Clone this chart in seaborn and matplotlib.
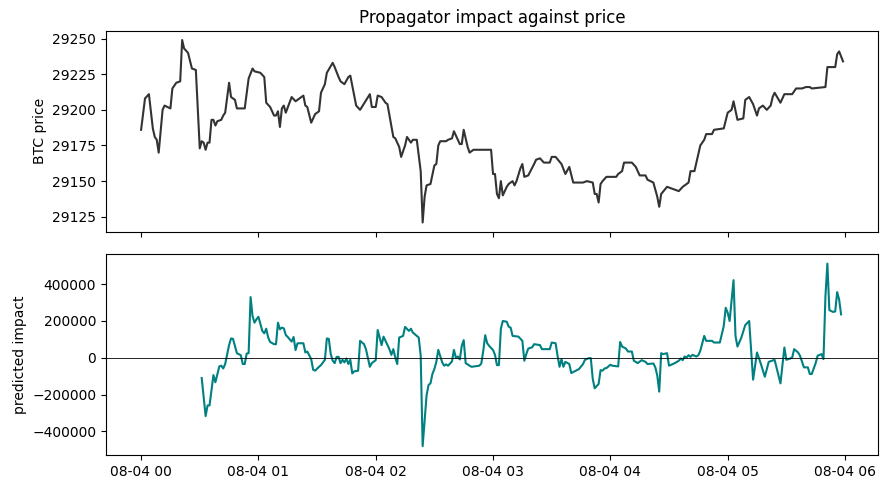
import pandas as pd
import matplotlib
matplotlib.use("Agg")
import matplotlib.pyplot as plt
import matplotlib.dates as mdates
import seaborn as sns

# minutes after 2023-08-04 00:00 and values
price_minutes = [0, 2, 4, 6, 7, 8, 9, 11, 12, 15, 16, 18, 20, 21, 22, 24, 26, 28, 30, 31,
                 32, 33, 34, 35, 36, 37, 38, 39, 41, 42, 43, 45, 46, 48, 49, 53, 55, 57, 58, 61,
                 63, 64, 66, 68, 69, 70, 71, 72, 73, 74, 77, 79, 81, 83, 84, 85, 87, 89, 91, 92,
                 94, 95, 98, 99, 101, 102, 104, 106, 107, 109, 110, 112, 117, 118, 120, 121, 123, 125, 126, 129,
                 130, 132, 133, 135, 136, 138, 139, 141, 143, 144, 145, 146, 148, 150, 151, 152, 153, 156, 157, 159,
                 160, 163, 164, 165, 167, 168, 170, 179, 180, 181, 182, 183, 184, 185, 187, 188, 190, 191, 192, 194,
                 195, 196, 198, 201, 202, 204, 206, 209, 210, 212, 215, 217, 219, 221, 226, 228, 231, 232, 233, 234,
                 235, 236, 238, 243, 244, 246, 247, 251, 253, 255, 258, 259, 262, 264, 265, 266, 269, 275, 277, 280,
                 281, 283, 284, 286, 288, 289, 292, 293, 298, 300, 301, 302, 303, 305, 308, 309, 311, 313, 315, 316,
                 318, 320, 322, 323, 324, 327, 329, 333, 335, 338, 340, 342, 343, 350, 351, 355, 356, 357, 359]
btc_price = [29186, 29208, 29211, 29187, 29181, 29179, 29170, 29200, 29203, 29201, 29215, 29219, 29220, 29249, 29243, 29240, 29229, 29228, 29173, 29178,
             29177, 29172, 29177, 29177, 29193, 29193, 29189, 29192, 29193, 29196, 29198, 29219, 29209, 29207, 29201, 29201, 29222, 29229, 29227, 29226,
             29223, 29205, 29202, 29196, 29196, 29199, 29188, 29201, 29203, 29198, 29209, 29206, 29208, 29210, 29203, 29202, 29191, 29197, 29199, 29212,
             29218, 29226, 29233, 29230, 29223, 29220, 29218, 29223, 29224, 29210, 29203, 29200, 29211, 29202, 29202, 29210, 29209, 29205, 29204, 29181,
             29180, 29174, 29167, 29175, 29181, 29177, 29179, 29179, 29157, 29121, 29139, 29147, 29148, 29161, 29162, 29175, 29178, 29178, 29179, 29180,
             29185, 29176, 29176, 29186, 29174, 29170, 29172, 29172, 29155, 29155, 29141, 29138, 29150, 29140, 29146, 29148, 29150, 29147, 29150, 29159,
             29162, 29153, 29154, 29162, 29165, 29166, 29163, 29163, 29167, 29167, 29162, 29155, 29160, 29149, 29149, 29150, 29149, 29141, 29141, 29135,
             29148, 29150, 29153, 29153, 29155, 29157, 29163, 29163, 29160, 29154, 29154, 29151, 29149, 29139, 29132, 29141, 29146, 29143, 29146, 29149,
             29157, 29157, 29163, 29175, 29179, 29183, 29183, 29186, 29187, 29198, 29199, 29200, 29206, 29193, 29194, 29207, 29209, 29204, 29196, 29201,
             29203, 29200, 29203, 29209, 29212, 29205, 29211, 29211, 29215, 29215, 29216, 29216, 29215, 29216, 29230, 29230, 29239, 29241, 29234]

impact_minutes = [31, 33, 34, 35, 37, 38, 40, 41, 42, 43, 45, 46, 47, 49, 51, 52, 53, 54, 55, 56,
                  57, 58, 59, 60, 62, 63, 64, 65, 66, 68, 69, 70, 71, 72, 73, 74, 75, 77, 78, 79,
                  80, 83, 84, 85, 87, 88, 89, 91, 92, 94, 95, 96, 97, 98, 99, 100, 101, 102, 103, 104,
                  105, 106, 107, 108, 109, 111, 112, 114, 115, 117, 118, 120, 121, 122, 123, 124, 125, 127, 128, 129,
                  130, 131, 132, 134, 135, 137, 138, 139, 140, 142, 143, 144, 146, 147, 148, 149, 150, 151, 152, 154,
                  155, 156, 157, 159, 160, 161, 162, 163, 164, 165, 166, 168, 169, 173, 174, 175, 176, 177, 178, 180,
                  181, 182, 183, 184, 185, 187, 188, 189, 190, 193, 195, 196, 197, 198, 200, 201, 204, 205, 209, 210,
                  212, 213, 214, 215, 216, 217, 219, 220, 223, 224, 226, 227, 229, 230, 231, 232, 234, 235, 236, 237,
                  238, 240, 241, 244, 245, 246, 248, 249, 251, 252, 254, 256, 258, 259, 262, 263, 264, 265, 266, 267,
                  269, 270, 273, 275, 276, 277, 278, 279, 280, 281, 282, 284, 285, 286, 288, 289, 292, 293, 296, 298,
                  299, 300, 301, 303, 304, 305, 307, 309, 311, 313, 315, 317, 319, 321, 324, 327, 329, 330, 332, 333,
                  334, 336, 337, 339, 341, 342, 343, 345, 346, 348, 349, 350, 351, 352, 354, 355, 356, 357, 358]
predicted_impact = [-110000, -317000, -259000, -259000, -94000, -133000, -47000, -43000, -58000, -34000,
                    69000, 105000, 103000, 25000, 14000, -34000, -34000, 23000, 25000, 330000,
                    227000, 191000, 209000, 223000, 146000, 133000, 158000, 110000, 86000, 74000,
                    74000, 191000, 155000, 164000, 160000, 124000, 113000, 88000, 113000, 42000,
                    79000, 79000, 29000, 34000, -7000, -65000, -70000, -49000, -40000, -11000,
                    105000, 103000, 20000, -16000, -29000, 5000, 5000, -29000, -11000, -25000,
                    -4000, -34000, -11000, -85000, -74000, -70000, 92000, 74000, 47000, -49000,
                    -29000, -13000, 151000, 110000, 69000, 115000, 92000, 47000, 16000, 47000,
                    2000, -34000, 110000, 119000, 168000, 146000, 158000, 137000, 128000, 110000,
                    11000, -480000, -205000, -148000, -139000, -88000, -61000, -22000, 43000, -25000,
                    -43000, -36000, -43000, -20000, 43000, 0, 7000, -9000, 65000, 96000,
                    -29000, -43000, -49000, -43000, -31000, 38000, 123000, 79000, 65000, 42000,
                    16000, -40000, -40000, 158000, 200000, 196000, 169000, 164000, 119000, 115000,
                    92000, -16000, 20000, 50000, 57000, 74000, 69000, 47000, 47000, 83000,
                    79000, 11000, -49000, -7000, -49000, -22000, -34000, -83000, -67000, -61000,
                    -34000, -11000, -2000, -2000, -115000, -166000, -142000, -67000, -70000, -58000,
                    -56000, -38000, -43000, -47000, 86000, 61000, 50000, 34000, 34000, -16000,
                    -29000, -13000, -22000, -34000, -31000, -52000, -97000, -184000, 25000, 20000,
                    25000, -43000, -29000, -16000, -4000, -13000, 7000, 2000, 14000, 5000,
                    16000, 7000, 14000, 38000, 119000, 92000, 92000, 83000, 83000, 173000,
                    272000, 245000, 200000, 422000, 119000, 61000, 110000, 178000, 200000, -119000,
                    29000, -34000, -103000, -22000, -11000, -139000, 56000, -11000, -4000, 2000,
                    47000, 29000, 11000, -52000, -52000, -88000, -88000, -29000, 11000, 20000,
                    -7000, 335000, 512000, 259000, 249000, 252000, 357000, 317000, 236000]

start = pd.Timestamp("2023-08-04 00:00")
price_df = pd.DataFrame({"time": start + pd.to_timedelta(price_minutes, unit="min"),
                         "price": btc_price})
impact_df = pd.DataFrame({"time": start + pd.to_timedelta(impact_minutes, unit="min"),
                          "impact": predicted_impact})

fig, (ax1, ax2) = plt.subplots(2, 1, sharex=True, figsize=(8.87, 4.9), dpi=100)

sns.lineplot(data=price_df, x="time", y="price", ax=ax1, color="#333333")
ax1.set_title("Propagator impact against price")
ax1.set_ylabel("BTC price")
ax1.set_xlabel("")
ax1.ticklabel_format(axis="y", style="plain", useOffset=False)

sns.lineplot(data=impact_df, x="time", y="impact", ax=ax2, color="teal")
ax2.axhline(0, color="black", lw=0.6)
ax2.set_ylabel("predicted impact")
ax2.set_xlabel("")
ax2.ticklabel_format(axis="y", style="plain")
ax2.xaxis.set_major_locator(mdates.HourLocator())
ax2.xaxis.set_major_formatter(mdates.DateFormatter("%m-%d %H"))

fig.subplots_adjust(left=0.1195, right=0.99, top=0.937, bottom=0.071, hspace=0.114)
fig.savefig("out.png")
